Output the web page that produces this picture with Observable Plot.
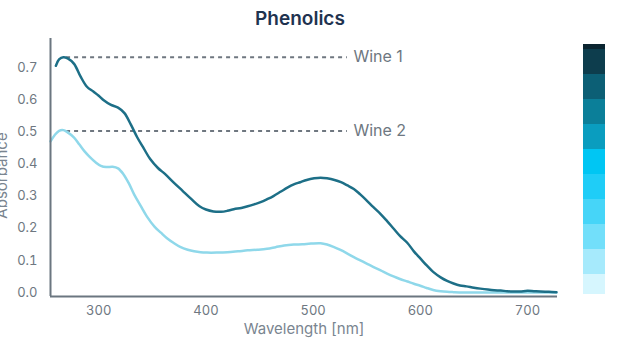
<!DOCTYPE html>
<html><head><meta charset="utf-8">
<script src="https://cdn.jsdelivr.net/npm/d3@7"></script>
<script src="https://cdn.jsdelivr.net/npm/@observablehq/plot@0.6"></script>
<style>
html,body{margin:0;padding:0;background:#fff;}
#wrap{position:relative;width:640px;height:360px;overflow:hidden;font-family:Inter,sans-serif;}
#title{position:absolute;top:8px;left:0;width:600px;text-align:center;font-size:19px;font-weight:600;color:#1f3350;line-height:22px;}
#main{position:absolute;left:0;top:0;}
#bar{position:absolute;left:583px;top:44px;line-height:0;}
</style></head><body>
<div id="wrap"><div id="main"></div><div id="title">Phenolics</div><div id="bar"></div></div>
<script>
const titleText = "Phenolics";
const xLabel = "Wavelength [nm]";
const yLabel = "Absorbance";
const xTicks = [300, 400, 500, 600, 700];
const yTicks = [0, 0.1, 0.2, 0.3, 0.4, 0.5, 0.6, 0.7];

const wine1Wavelengths = [260,263,267,271,277,283,289,295,300,305,311,318,324,330,336,342,348,355,362,370,378,386,394,400,407,414,420,426,433,439,445,451,457,463,470,476,482,488,494,501,507,513,520,526,532,538,544,550,556,563,569,575,581,588,594,600,606,612,619,625,631,637,643,650,656,663,669,675,681,687,693,700,706,712,720,727];
const wine1Absorbance = [0.705,0.725,0.732,0.728,0.711,0.672,0.640,0.625,0.612,0.597,0.584,0.575,0.558,0.522,0.482,0.448,0.415,0.388,0.368,0.342,0.317,0.292,0.268,0.258,0.252,0.251,0.254,0.259,0.263,0.268,0.274,0.281,0.290,0.300,0.314,0.326,0.336,0.343,0.350,0.355,0.357,0.355,0.350,0.343,0.333,0.322,0.305,0.286,0.266,0.244,0.222,0.199,0.176,0.154,0.128,0.106,0.084,0.064,0.047,0.036,0.028,0.022,0.019,0.015,0.012,0.009,0.007,0.006,0.004,0.003,0.003,0.005,0.004,0.003,0.002,0.001];

const wine2Wavelengths = [255,259,263,267,271,277,282,287,292,297,302,307,313,318,323,328,333,339,345,352,358,364,370,376,383,389,395,401,410,420,430,439,448,457,465,473,482,490,498,507,513,519,525,532,538,544,550,556,563,569,575,581,588,594,600,606,612,619,625,631,640,660,680,700,727];
const wine2Absorbance = [0.470,0.490,0.503,0.505,0.498,0.482,0.460,0.438,0.420,0.405,0.394,0.390,0.391,0.386,0.368,0.340,0.305,0.270,0.236,0.205,0.186,0.168,0.154,0.142,0.133,0.128,0.125,0.124,0.124,0.125,0.128,0.131,0.133,0.136,0.141,0.146,0.149,0.150,0.152,0.153,0.149,0.142,0.133,0.121,0.110,0.100,0.090,0.080,0.069,0.059,0.050,0.042,0.034,0.027,0.021,0.014,0.008,0.004,0.002,0.001,0.0,0.0,0.0,0.0,0.0];

const seriesNames = ["Wine 1", "Wine 2"];
const seriesColors = ["#1d6f87", "#8fd8ea"];
const peakValues = [0.732, 0.502];
const peakWavelengths = [270, 270];
const annotationEnd = 532;

const colorbarColors = ["#d6f6fe","#a6eafc","#72dffa","#46d5f8","#1fcdf7","#00c6f3","#0a9dbf","#0b7f99","#0c5f75","#0d3d4d","#0b2530"];
const colorbarBreaks = [0,4,9,14,19,24,29,34,39,44,49,50];

const wine1 = wine1Wavelengths.map((w, i) => ({wl: w, v: wine1Absorbance[i]}));
const wine2 = wine2Wavelengths.map((w, i) => ({wl: w, v: wine2Absorbance[i]}));
const peaks = seriesNames.map((n, i) => ({name: n, v: peakValues[i], wl: peakWavelengths[i]}));

const axisColor = "#6b7680";
const textColor = "#6e7781";

const chart = Plot.plot({
  width: 640, height: 360,
  marginLeft: 50, marginRight: 83, marginTop: 38, marginBottom: 64,
  x: {domain: [255, 728]},
  y: {domain: [-0.0125, 0.79]},
  style: {fontFamily: "Inter, sans-serif", background: "transparent"},
  marks: [
    Plot.ruleY(peaks, {y: "v", x1: "wl", x2: annotationEnd, stroke: "#6f7780", strokeWidth: 2, strokeDasharray: "4,4"}),
    Plot.text(peaks, {x: annotationEnd, y: "v", text: "name", textAnchor: "start", dx: 6, fontSize: 16, fill: textColor}),
    Plot.line(wine2, {x: "wl", y: "v", stroke: seriesColors[1], strokeWidth: 2.5, curve: "catmull-rom"}),
    Plot.line(wine1, {x: "wl", y: "v", stroke: seriesColors[0], strokeWidth: 2.5, curve: "catmull-rom"}),
    Plot.ruleX([255], {stroke: axisColor, strokeWidth: 2}),
    Plot.ruleY([-0.0125], {stroke: axisColor, strokeWidth: 2}),
    Plot.axisX({ticks: xTicks, tickSize: 0, tickPadding: 9, fontSize: 13, color: textColor, label: null}),
    Plot.axisY({ticks: yTicks, tickSize: 0, tickPadding: 13, tickFormat: ".1f", fontSize: 13, color: textColor, label: null}),
    Plot.text([xLabel], {text: d => d, frameAnchor: "bottom", textAnchor: "middle", lineAnchor: "middle", dy: 33, fontSize: 15, fill: "#7a8590"}),
    Plot.text([yLabel], {text: d => d, frameAnchor: "left", textAnchor: "middle", lineAnchor: "bottom", rotate: -90, dx: -44, dy: 8, fontSize: 15, fill: "#7a8590"})
  ]
});
document.getElementById("main").appendChild(chart);
document.getElementById("title").textContent = titleText;

const bar = Plot.plot({
  width: 22, height: 250, margin: 0,
  x: {domain: [0, 1], axis: null},
  y: {domain: [0, 50], axis: null},
  color: {type: "identity"},
  marks: [
    Plot.rect(colorbarColors, {x1: 0, x2: 1, y1: (d, i) => colorbarBreaks[i], y2: (d, i) => colorbarBreaks[i + 1], fill: d => d})
  ]
});
document.getElementById("bar").appendChild(bar);
</script></body></html>
